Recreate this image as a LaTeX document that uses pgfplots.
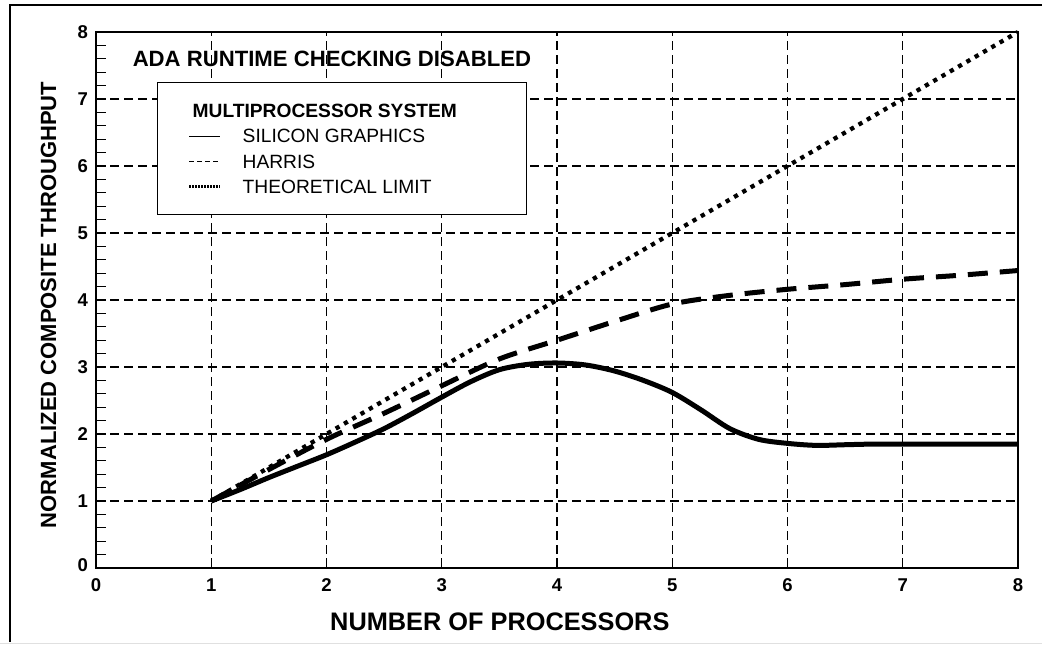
\documentclass[border=0pt]{standalone}
\usepackage{fontspec}
\setmainfont{Liberation Sans}
\usepackage{pgfplots}
\pgfplotsset{compat=1.18}

\pgfplotstableread{
x y
1.00 1.00
1.25 1.17
1.50 1.35
1.75 1.52
2.00 1.69
2.25 1.88
2.50 2.08
2.75 2.31
3.00 2.55
3.25 2.78
3.50 2.96
3.75 3.04
4.00 3.06
4.25 3.03
4.50 2.94
4.75 2.80
5.00 2.62
5.25 2.36
5.50 2.08
5.75 1.92
6.00 1.86
6.25 1.83
6.50 1.84
6.75 1.85
7.00 1.85
7.50 1.85
8.00 1.85
}\sgdata

\pgfplotstableread{
x y
1.00 1.00
1.50 1.47
2.00 1.92
2.50 2.31
3.00 2.72
3.50 3.12
4.00 3.40
4.50 3.68
5.00 3.94
5.50 4.07
6.00 4.16
6.50 4.23
7.00 4.31
7.50 4.37
8.00 4.44
}\harrisdata

\pgfplotstableread{
x y
1 1
8 8
}\limitdata

\begin{document}
\begin{tikzpicture}
\useasboundingbox (0,0) rectangle (781.5pt,483pt);
\begin{axis}[
  at={(72pt,57pt)}, anchor=south west,
  scale only axis, width=691.5pt, height=402pt,
  clip=false,
  xmin=0, xmax=8, ymin=0, ymax=8,
  xtick={0,...,8}, ytick={0,...,8},
  yticklabels={\raisebox{3.75pt}{0},1,2,3,4,5,6,7,\raisebox{-6pt}{8}},
  minor y tick num=4,
  tick pos=left, tick align=inside,
  major tick length=7.5pt, minor tick length=7.5pt,
  tick style={black, line width=1pt},
  axis line style={black, line width=1.1pt},
  grid=major,
  major grid style={black, line width=0.9pt, dash pattern=on 7pt off 3.5pt},
  /pgf/number format/assume math mode=true,
  ticklabel style={font=\bfseries\fontsize{13.9pt}{16pt}\selectfont},
  yticklabel style={xshift=-2.5pt},
  xticklabel style={yshift=-4.5pt},
  xlabel={NUMBER OF PROCESSORS},
  xlabel style={at={(rel axis cs:0.438,-0.1007)}, anchor=center,
    font=\bfseries\fontsize{19pt}{22pt}\selectfont},
  ylabel={NORMALIZED COMPOSITE THROUGHPUT},
  ylabel style={at={(rel axis cs:-0.0515,0.4907)}, anchor=center,
    font=\bfseries\fontsize{16.5pt}{19pt}\selectfont},
  legend cell align=left,
  legend image code/.code={\draw[#1] (0pt,0pt) -- (23.25pt,0pt);},
  legend style={at={(rel axis cs:0.0662,0.9067)}, anchor=north west,
    draw=black, line width=1.1pt, fill=white,
    inner xsep=22.5pt, inner ysep=11.5pt,
    font=\fontsize{14.4pt}{17pt}\selectfont,
    nodes={inner sep=0pt, text height=14.65pt, text depth=4.35pt},
    /tikz/every odd column/.append style={column sep=15.75pt},
    row sep=0pt},
]
\addlegendimage{empty legend}
\addlegendentry{\makebox[190.5pt][l]{\hspace*{-37.5pt}\textbf{MULTIPROCESSOR SYSTEM}}}
\addlegendimage{black, line width=0.75pt, solid}
\addlegendentry{\makebox[190.5pt][l]{SILICON GRAPHICS}}
\addlegendimage{black, line width=0.75pt, dash pattern=on 3.75pt off 2.25pt}
\addlegendentry{\makebox[190.5pt][l]{HARRIS}}
\addlegendimage{black, line width=2.2pt, dash pattern=on 1.5pt off 0.75pt}
\addlegendentry{\makebox[190.5pt][l]{THEORETICAL LIMIT}}

\addplot[forget plot, black, line width=3.75pt, smooth, tension=0.5] table[x=x, y=y] {\sgdata};
\addplot[forget plot, black, line width=3.75pt, smooth, dash pattern=on 15pt off 9pt] table[x=x, y=y] {\harrisdata};
\addplot[forget plot, black, line width=3.2pt, dash pattern=on 3.2pt off 4pt] table[x=x, y=y] {\limitdata};

\node[anchor=base west, font=\bfseries\fontsize{16.6pt}{19pt}\selectfont]
  at (axis cs:0.278,7.478) {ADA RUNTIME CHECKING DISABLED};
\end{axis}
\draw[black, line width=2.2pt] (7.5pt,1.5pt) -- (7.5pt,479.25pt) -- (781.5pt,479.25pt);
\draw[black!12, line width=0.75pt] (0pt,0.6pt) -- (781.5pt,0.6pt);
\end{tikzpicture}
\end{document}
